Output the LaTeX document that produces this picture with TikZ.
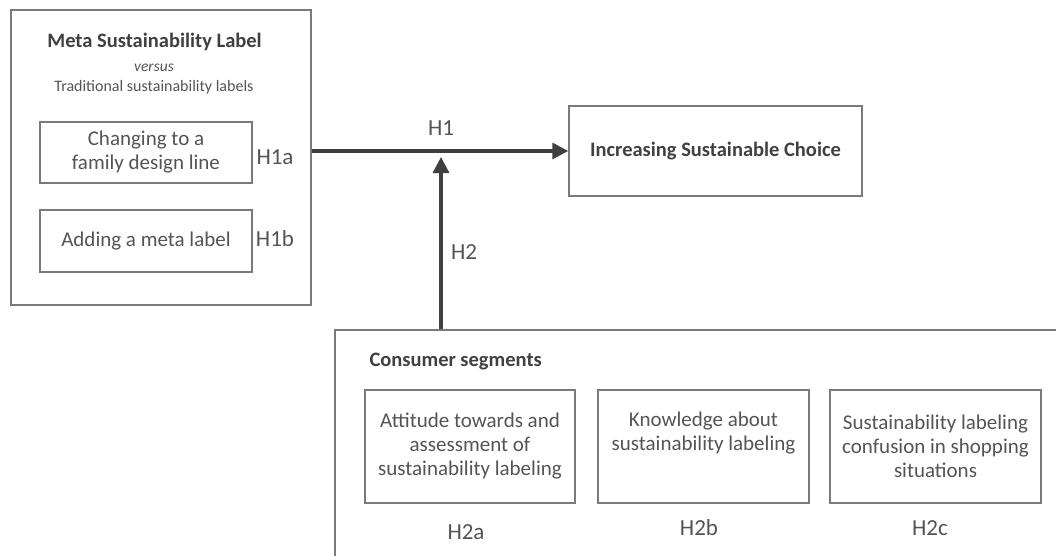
\documentclass[tikz,border=0pt]{standalone}
\usepackage{fontspec}
\setmainfont{Carlito}
\usetikzlibrary{arrows.meta,positioning}
\definecolor{boxgray}{HTML}{7A7A7A}
\definecolor{textgray}{HTML}{545454}
\definecolor{arrowgray}{HTML}{404040}

\begin{document}
\begin{tikzpicture}[x=1pt,y=-1pt,
          box/.style={draw=boxgray, line width=1.4pt, text=textgray, align=center, inner sep=0pt},
          hyp/.style={text=textgray, font=\fontsize{23}{27}\selectfont},
          head/.style={text=arrowgray, font=\bfseries\fontsize{20.5}{24}\selectfont},
          body/.style={font=\fontsize{21}{24}\selectfont},
          effect/.style={draw=arrowgray, line width=3.2pt, -{Triangle[length=16pt,width=16pt]}}]
  \useasboundingbox (0,0) rectangle (1056,555);
  \clip (0,0) rectangle (1056,555);
  % label side
  \node[box, minimum width=300pt, minimum height=295pt] (meta) at (161,157.5) {};
  \node[head] (metatitle) at (154.5,42) {Meta Sustainability Label};
  \node[text=textgray, font=\itshape\fontsize{15.5}{18}\selectfont] (versus) at (154,68) {versus};
  \node[text=textgray, font=\fontsize{16}{19}\selectfont] (traditional) at (154,87) {Traditional sustainability labels};
  \node[box, body, minimum width=212pt, minimum height=61pt] (design) at (146,152.5) {Changing to a\\family design line};
  \node[box, body, minimum width=212pt, minimum height=62pt] (metalabel) at (146,241) {Adding a meta label};
  \node[hyp] (h1a) at (275,157) {H1a};
  \node[hyp] (h1b) at (275,239) {H1b};
  % outcome
  \node[box, head, minimum width=293pt, minimum height=90pt] (choice) at (715.5,151) {Increasing Sustainable Choice};
  \draw[effect] (meta.east |- choice.west) -- (choice.west);
  \node[hyp] (h1) at (441,128) {H1};
  % consumer segments
  \node[box, minimum width=736pt, minimum height=245pt] (segments) at (703,452.5) {};
  \node[head, anchor=west] (segtitle) at (366,362) {Consumer segments};
  \node[box, body, minimum width=210pt, minimum height=113pt] (attitude) at (470,446.5) {Attitude towards and\\assessment of\\sustainability labeling};
  \node[box, body, minimum width=211pt, minimum height=113pt] (knowledge) at (703.5,446.5) {Knowledge about\\sustainability labeling\\\strut};
  \node[box, body, minimum width=211pt, minimum height=113pt] (confusion) at (935.5,446.5) {Sustainability labeling\\confusion in shopping\\situations};
  \node[hyp] (h2a) at (466,532) {H2a};
  \node[hyp] (h2b) at (699,528) {H2b};
  \node[hyp] (h2c) at (930,528) {H2c};
  \coordinate (join) at (441,157);
  \draw[effect] (segments.north -| join) -- (join);
  \node[hyp] (h2) at (464,252) {H2};
\end{tikzpicture}
\end{document}
